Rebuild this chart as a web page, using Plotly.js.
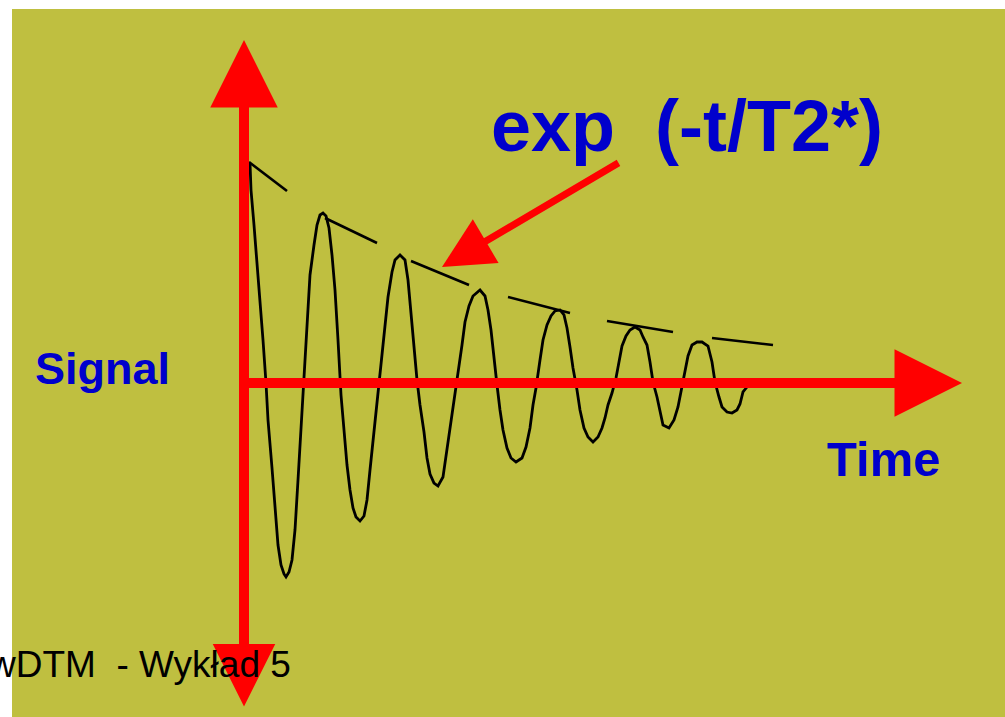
<!DOCTYPE html>
<html>
<head>
<meta charset="utf-8">
<script src="https://cdn.plot.ly/plotly-3.0.1.min.js"></script>
<style>html,body{margin:0;padding:0;background:#fff;}#chart{width:1005px;height:717px;}</style>
</head>
<body>
<div id="chart"></div>
<script>
// Damped oscillation (time, signal); origin at the axes crossing
const time = [6,7,10,13,16,19,22,24,28,31,34,37,40,42,45,48,51,54,57,60,63,66,70,73,76,79,82,85,88,91,94,97,100,103,106,109,112,116,120,123,126,129,132,135,138,141,144,148,151,156,161,164,167,170,173,176,180,183,186,190,194,199,203,207,211,215,218,221,225,229,236,241,244,247,250,253,256,259,263,267,272,278,282,286,289,292,296,299,303,307,311,316,320,323,326,329,333,336,340,344,349,354,358,361,364,368,372,375,378,382,386,391,396,399,403,406,409,413,416,419,425,430,434,438,441,444,448,453,458,464,468,471,475,478,483,488,493,496,499,503];
const signal = [220,193,158,121,83,43,0,-37,-85,-129,-162,-182,-191,-194,-189,-177,-147,-97,-47,3,63,108,138,158,168,170,167,155,128,93,43,-12,-47,-82,-107,-125,-134,-138,-133,-117,-87,-57,-27,3,33,58,86,111,123,128,123,103,68,33,3,-22,-49,-75,-91,-100,-103,-94,-67,-39,-12,13,38,61,77,87,93,87,73,53,23,-2,-27,-47,-65,-75,-79,-75,-64,-45,-22,-5,23,43,58,67,72,73,68,55,36,15,-7,-27,-45,-54,-59,-54,-45,-35,-22,-10,5,21,37,47,53,56,53,46,38,21,1,-14,-30,-42,-45,-37,-24,-2,13,27,38,41,41,37,21,1,-14,-24,-29,-30,-27,-21,-9,-4];

// Envelope pieces exp(-t/T2*) near each peak: start/end times and signals
const envT0 = [5, 81, 167, 264, 363, 468];
const envT1 = [43, 133, 225, 326, 429, 529];
const envS0 = [221, 165, 122, 86, 62, 45];
const envS1 = [192, 140, 98, 70, 51, 38];

// Axis arrows and the pointer arrow (time, signal)
const vAxisTop = [0, 343];
const vAxisBottom = [0, -325];
const hAxisStart = [-4, 0];
const hAxisEnd = [718, 0];
const pointerTail = [376, 221];
const pointerTip = [198, 116];

// Labels
const labels = ["Signal", "Time", "exp\u00A0\u00A0(-t/T2*)", "wDTM\u00A0\u00A0- Wykład 5"];

const envX = [], envY = [];
for (let i = 0; i < envT0.length; i++) {
  envX.push(envT0[i], envT1[i], null);
  envY.push(envS0[i], envS1[i], null);
}

const traces = [
  {x: time, y: signal, mode: 'lines', line: {color: '#000', width: 2.8}, hoverinfo: 'skip', showlegend: false},
  {x: envX, y: envY, mode: 'lines', line: {color: '#000', width: 2.6}, hoverinfo: 'skip', showlegend: false, connectgaps: false}
];

const RED = '#ff0000', BLUE = '#0000cc';
const annotations = [
  {x: vAxisTop[0], y: vAxisTop[1], ax: vAxisBottom[0], ay: vAxisBottom[1], xref: 'x', yref: 'y', axref: 'x', ayref: 'y',
   text: '', showarrow: true, arrowside: 'end+start', arrowhead: 2, startarrowhead: 2, arrowsize: 1.35, startarrowsize: 1.25,
   arrowwidth: 10, arrowcolor: RED, standoff: 0, startstandoff: 0},
  {x: hAxisEnd[0], y: hAxisEnd[1], ax: hAxisStart[0], ay: hAxisStart[1], xref: 'x', yref: 'y', axref: 'x', ayref: 'y',
   text: '', showarrow: true, arrowhead: 2, arrowsize: 1.35, arrowwidth: 10, arrowcolor: RED, standoff: 0},
  {x: pointerTip[0], y: pointerTip[1], ax: pointerTail[0], ay: pointerTail[1], xref: 'x', yref: 'y', axref: 'x', ayref: 'y',
   text: '', showarrow: true, arrowhead: 2, arrowsize: 1.45, arrowwidth: 7, arrowcolor: RED, standoff: 0},
  {x: -141.5, y: 14.5, xref: 'x', yref: 'y', text: labels[0], showarrow: false, xanchor: 'center', yanchor: 'middle',
   font: {family: 'Liberation Sans, Arial, sans-serif', size: 45, color: BLUE, weight: 'bold'}},
  {x: 639, y: -76, xref: 'x', yref: 'y', text: labels[1], showarrow: false, xanchor: 'center', yanchor: 'middle',
   font: {family: 'Liberation Sans, Arial, sans-serif', size: 49, color: BLUE, weight: 'bold'}},
  {x: 442.5, y: 256.5, xref: 'x', yref: 'y', text: labels[2], showarrow: false, xanchor: 'center', yanchor: 'middle',
   font: {family: 'Liberation Sans, Arial, sans-serif', size: 72, color: BLUE, weight: 'bold'}},
  {x: 49, y: -281.5, xref: 'x', yref: 'y', text: labels[3], showarrow: false, xanchor: 'right', yanchor: 'middle',
   font: {family: 'Liberation Sans, Arial, sans-serif', size: 37, color: '#000'}}
];

const layout = {
  width: 1005, height: 717,
  margin: {l: 0, r: 0, t: 0, b: 0, pad: 0},
  paper_bgcolor: '#ffffff',
  plot_bgcolor: '#bfbf40',
  showlegend: false,
  xaxis: {domain: [12/1005, 1], range: [-232, 761], visible: false, fixedrange: true},
  yaxis: {domain: [0, 708/717], range: [-334, 374], visible: false, fixedrange: true},
  annotations: annotations
};

Plotly.newPlot('chart', traces, layout, {displayModeBar: false, staticPlot: true});
</script>
</body>
</html>
